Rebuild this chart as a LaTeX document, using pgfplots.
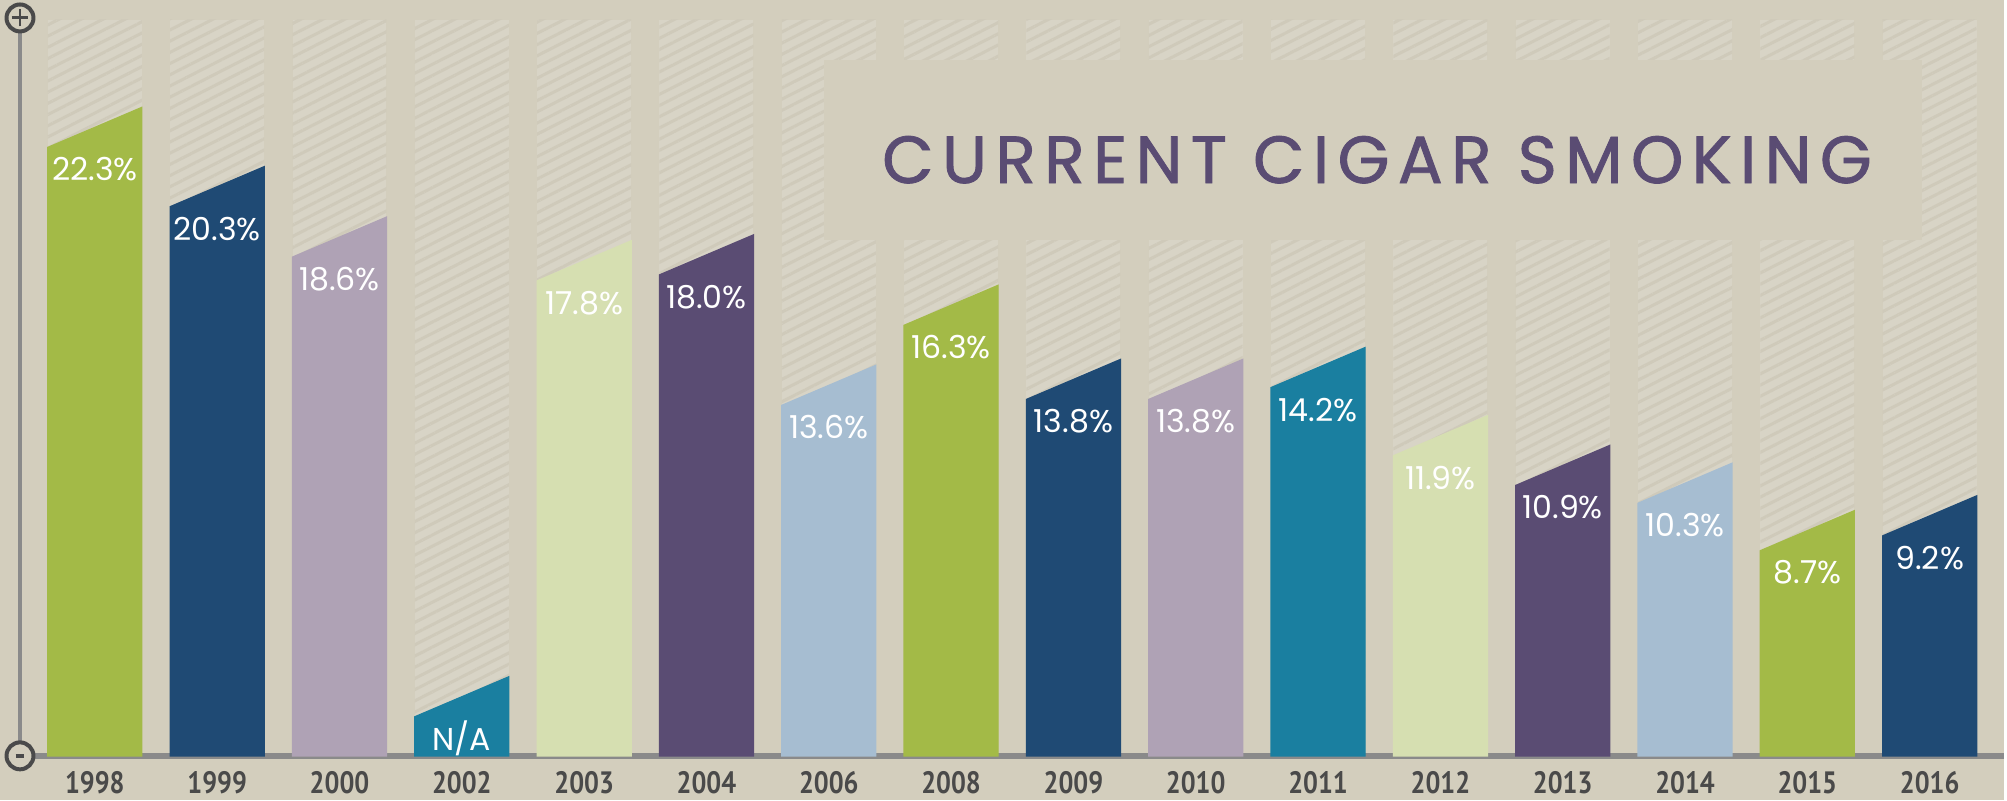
\documentclass[border=0pt]{standalone}
\usepackage{pgfplots}
\pgfplotsset{compat=1.18}
\usepackage{pgfplotstable}
\usepackage{fontspec}
\usetikzlibrary{patterns.meta}
\setmainfont{Poppins}
\newfontfamily\labfont{Poppins}
\newfontfamily\yearfont[FakeStretch=0.85]{PT Sans}
\newfontfamily\titlefont[LetterSpace=12.5, FakeBold=1.2]{Poppins}

\definecolor{bgcol}{HTML}{D3CEBD}
\definecolor{hatchbase}{HTML}{D8D4C6}
\definecolor{hatchline}{HTML}{CFCABA}
\definecolor{cgreen}{HTML}{A3BA47}
\definecolor{cnavy}{HTML}{1F4A74}
\definecolor{clav}{HTML}{AFA2B5}
\definecolor{cteal}{HTML}{1A7FA0}
\definecolor{cpale}{HTML}{D6DFB1}
\definecolor{cpurp}{HTML}{5A4C73}
\definecolor{cblue}{HTML}{A6BDD1}
\definecolor{yearcol}{HTML}{4A4A4A}
\definecolor{axcol}{HTML}{8A8A8A}
\definecolor{circcol}{HTML}{4A4A4A}

\pgfdeclareplotmark{blank}{}

% x = position, v = percent, c = colour index, na = no data
\pgfplotstableread{
x v c na
0 22.3 0 0
1 20.3 1 0
2 18.6 2 0
3 3.1 3 1
4 17.8 4 0
5 18.0 5 0
6 13.6 6 0
7 16.3 0 0
8 13.8 1 0
9 13.8 2 0
10 14.2 3 0
11 11.9 4 0
12 10.9 5 0
13 10.3 6 0
14 8.7 0 0
15 9.2 1 0
}\bars

\begin{document}
\begin{tikzpicture}
\begin{axis}[
    scale only axis,
    width=200.7mm, height=80.1mm,
    xmin=-0.7755, xmax=15.608,
    ymin=-0.3715, ymax=26.598,
    axis background/.style={fill=bgcol},
    axis line style={draw=none},
    major tick length=0pt,
    ytick=\empty,
    xtick={0,...,15},
    xticklabels={1998,1999,2000,2002,2003,2004,2006,2008,2009,2010,2011,2012,2013,2014,2015,2016},
    xtick pos=left,
    xticklabel style={anchor=center, inner sep=0pt, yshift=1.7mm, text=yearcol,
        font=\fontsize{8.8pt}{9pt}\yearfont\bfseries},
    clip=false,
]
% hatched background columns
\pgfplotsinvokeforeach{0,...,15}{
  \fill[hatchbase] (axis cs:#1-0.384,1.11) rectangle (axis cs:#1+0.384,25.925);
  \fill[pattern={Lines[angle=27,distance=1.0mm,line width=0.3mm]}, pattern color=hatchline]
    (axis cs:#1-0.384,1.11) rectangle (axis cs:#1+0.384,25.925);
}
% title panel
\fill[bgcol] (axis cs:5.959,18.517) rectangle (axis cs:14.939,24.578);
\node[text=cpurp, font=\fontsize{19pt}{19pt}\titlefont] at (axis cs:10.482,21.211) {CURRENT CIGAR SMOKING};

% bars with slanted tops
\addplot[scatter, only marks, mark=blank,
    visualization depends on={\thisrow{v} \as \barval},
    visualization depends on={\thisrow{c} \as \barci},
    visualization depends on={\thisrow{na} \as \isna},
    scatter/@pre marker code/.code={
      \pgfmathtruncatemacro\ci{\barci}
      \pgfmathtruncatemacro\nf{\isna}
      \ifcase\ci\relax \def\bc{cgreen}\or\def\bc{cnavy}\or\def\bc{clav}\or
        \def\bc{cteal}\or\def\bc{cpale}\or\def\bc{cpurp}\or\def\bc{cblue}\fi
      \fill[\bc] (-4.7mm,{-(\barval-1.11)*2.97mm}) -- (-4.7mm,-2mm) -- (4.7mm,2mm)
        -- (4.7mm,{-(\barval-1.11)*2.97mm}) -- cycle;
      \node[text=white, font=\fontsize{9pt}{9pt}\labfont] at (0mm,-4.2mm)
        {\ifnum\nf=1 N/A\else\pgfmathprintnumber[fixed, fixed zerofill, precision=1,
          assume math mode=true]{\barval}\%\fi};
    },
    scatter/@post marker code/.code={},
] table[x=x, y=v] {\bars};

% axis lines and end markers
\draw[axcol, line width=0.4mm] (axis cs:-0.612,25.992) -- (axis cs:-0.612,1.11);
\draw[axcol, line width=0.6mm] (axis cs:-0.612,1.11) -- (axis cs:15.608,1.11);
\draw[circcol, fill=bgcol, line width=0.4mm] (axis cs:-0.612,25.992) circle[radius=1.35mm];
\draw[circcol, line width=0.3mm] (axis cs:-0.612,25.992) +(-0.85mm,0mm) -- +(0.85mm,0mm)
  (axis cs:-0.612,25.992) +(0mm,-0.85mm) -- +(0mm,0.85mm);
\draw[circcol, fill=bgcol, line width=0.4mm] (axis cs:-0.612,1.11) circle[radius=1.35mm];
\draw[circcol, line width=0.45mm] (axis cs:-0.612,1.11) +(-0.45mm,0mm) -- +(0.45mm,0mm);
\end{axis}
\end{tikzpicture}
\end{document}
